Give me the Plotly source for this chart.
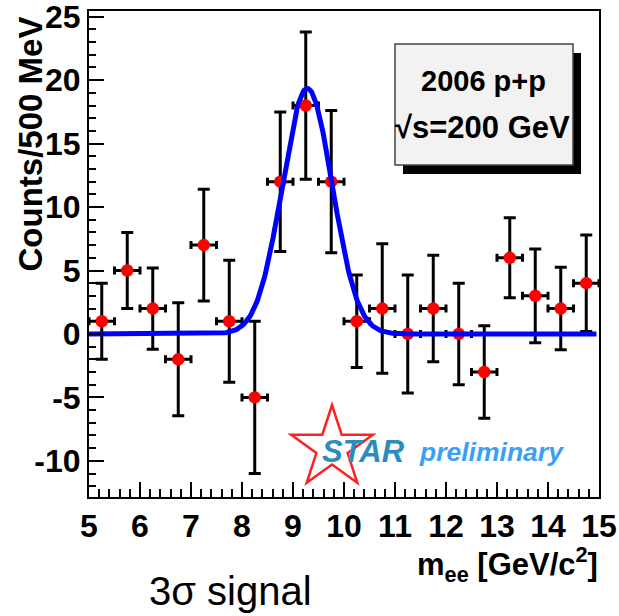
import numpy as np
import plotly.graph_objects as go

# ---------------- data ----------------
mass_centers = [5.25, 5.75, 6.25, 6.75, 7.25, 7.75, 8.25, 8.75, 9.25, 9.75,
                10.25, 10.75, 11.25, 11.75, 12.25, 12.75, 13.25, 13.75, 14.25, 14.75]
counts = [1, 5, 2, -2, 7, 1, -5, 12, 18, 12,
          1, 2, 0, 2, 0, -3, 6, 3, 2, 4]
count_errors = [3.0, 3.0, 3.2, 4.45, 4.4, 4.8, 6.0, 5.5, 5.8, 5.6,
                3.65, 5.1, 4.65, 4.2, 4.0, 3.65, 3.15, 3.7, 3.25, 3.8]
bin_half_width = [0.25] * 20

# Gaussian fit parameters (as drawn)
fit_amplitude = 19.35
fit_mean = 9.28
fit_sigma = 0.49
fit_range = [5.0, 14.95]

x_ticks = [5, 6, 7, 8, 9, 10, 11, 12, 13, 14, 15]
y_ticks = [-10, -5, 0, 5, 10, 15, 20, 25]

# ---------------- geometry helpers ----------------
W, H = 619, 616
L, R, T, B = 89, 599, 11, 497
PW, PH = R - L, B - T


def px_x(px):
    return (px - L) / PW


def px_y(py):
    return (B - py) / PH


FONT = "Liberation Sans, Arial, Helvetica, sans-serif"

fig = go.Figure()

fig.add_trace(go.Scatter(
    x=mass_centers, y=counts, mode="markers",
    marker=dict(color="#ff0000", size=12.5, symbol="circle"),
    error_y=dict(type="data", array=count_errors, visible=True,
                 color="black", thickness=3, width=6),
    error_x=dict(type="data", array=bin_half_width, visible=True,
                 color="black", thickness=3, width=4),
    showlegend=False, hoverinfo="skip",
))

xf = np.linspace(fit_range[0], fit_range[1], 600)
yf = fit_amplitude * np.exp(-0.5 * ((xf - fit_mean) / fit_sigma) ** 2)
fig.add_trace(go.Scatter(
    x=xf, y=yf, mode="lines",
    line=dict(color="#0000ff", width=5),
    showlegend=False, hoverinfo="skip",
))

axis_common = dict(
    showgrid=False, zeroline=False,
    showline=True, linecolor="black", linewidth=2, mirror=True,
    ticks="inside", tickcolor="black", tickwidth=2, ticklen=15,
    ticklabeloverflow="allow",
    tickfont=dict(family=FONT, size=32, color="black", weight="bold"),
)

fig.update_xaxes(
    range=[5, 15], tickmode="array", tickvals=x_ticks,
    ticktext=[str(v) for v in x_ticks],
    minor=dict(dtick=0.2, ticks="inside", ticklen=8, tickwidth=2, tickcolor="black"),
    **axis_common,
)
fig.update_yaxes(
    range=[-12.85, 25.45], tickmode="array", tickvals=y_ticks,
    ticktext=[str(v) for v in y_ticks],
    minor=dict(dtick=1, ticks="inside", ticklen=7, tickwidth=2, tickcolor="black"),
    **axis_common,
)

shapes = []
# info box shadow + box
shapes.append(dict(type="rect", xref="paper", yref="paper",
                   x0=px_x(403), x1=px_x(581), y0=px_y(174), y1=px_y(53),
                   fillcolor="black", line=dict(width=0), layer="above"))
shapes.append(dict(type="rect", xref="paper", yref="paper",
                   x0=px_x(395), x1=px_x(573), y0=px_y(165), y1=px_y(44),
                   fillcolor="#f2f2f2", line=dict(color="#444444", width=1.5),
                   layer="above"))

# STAR logo star outline
cx, cy, Ro = 332, 448, 43
Ri = Ro * 0.382
pts = []
for k in range(10):
    ang = np.pi / 2 + k * np.pi / 5
    r = Ro if k % 2 == 0 else Ri
    pts.append((cx + r * np.cos(ang), cy - r * np.sin(ang)))
path = "M " + " L ".join(f"{px_x(px):.5f},{px_y(py):.5f}" for px, py in pts) + " Z"
shapes.append(dict(type="path", xref="paper", yref="paper", path=path,
                   line=dict(color="#ff2020", width=2.5), fillcolor="rgba(0,0,0,0)",
                   layer="above"))

annotations = [
    dict(text="2006 p+p", x=px_x(483), y=px_y(81), xref="paper", yref="paper",
         showarrow=False, xanchor="center", yanchor="middle",
         font=dict(family=FONT, size=29, color="black", weight="bold")),
    dict(text="√s=200 GeV", x=px_x(482), y=px_y(128), xref="paper", yref="paper",
         showarrow=False, xanchor="center", yanchor="middle",
         font=dict(family=FONT, size=31, color="black", weight="bold")),
    dict(text="<i>STAR</i>", x=px_x(363), y=px_y(451), xref="paper", yref="paper",
         showarrow=False, xanchor="center", yanchor="middle",
         font=dict(family=FONT, size=31, color="#2b8cc0", weight="bold")),
    dict(text="<i>preliminary</i>", x=px_x(417), y=px_y(452), xref="paper", yref="paper",
         showarrow=False, xanchor="left", yanchor="middle",
         font=dict(family=FONT, size=26.5, color="#3a9ff5", weight="bold")),
    dict(text="Counts/500 MeV", x=px_x(30), y=px_y(15), xref="paper", yref="paper",
         showarrow=False, xanchor="center", yanchor="top", textangle=-90,
         font=dict(family=FONT, size=33, color="black", weight="bold")),
    dict(text="m<sub>ee</sub> [GeV/c<sup>2</sup>]", x=px_x(600), y=px_y(564),
         xref="paper", yref="paper", showarrow=False, xanchor="right", yanchor="middle",
         font=dict(family=FONT, size=31, color="black", weight="bold")),
    dict(text="3σ signal", x=px_x(147), y=px_y(591), xref="paper", yref="paper",
         showarrow=False, xanchor="left", yanchor="middle",
         font=dict(family=FONT, size=40, color="black")),
]

fig.update_layout(
    width=W, height=H,
    margin=dict(l=L, r=W - R, t=T, b=H - B, pad=0, autoexpand=False),
    paper_bgcolor="white", plot_bgcolor="white",
    shapes=shapes, annotations=annotations,
    showlegend=False,
)

fig.write_html("out.html")
